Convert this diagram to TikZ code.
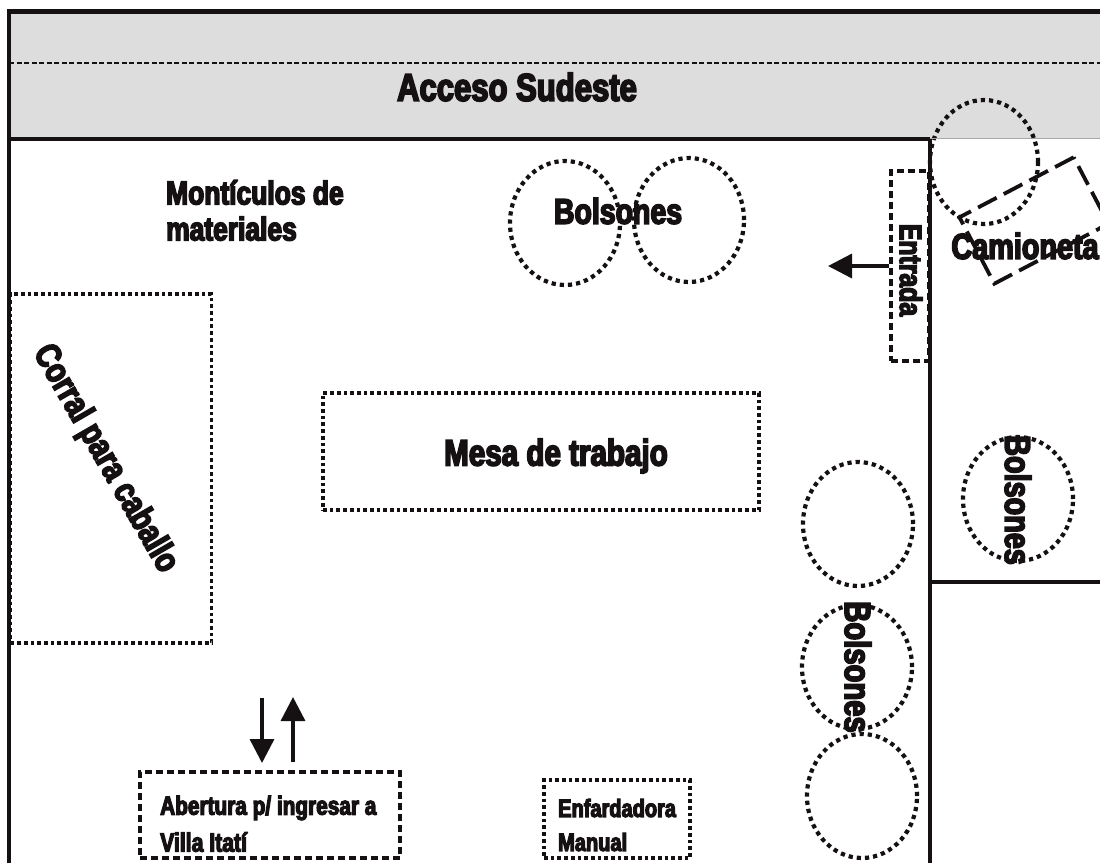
\documentclass[tikz,border=0pt]{standalone}
\usepackage{fontspec}
\setmainfont{Liberation Sans}
\newfontfamily\imp[BoldFeatures={FakeStretch=0.8,FakeBold=4.5}]{Liberation Sans}
\usetikzlibrary{shapes.geometric,arrows.meta}
\definecolor{ink}{HTML}{151112}
\definecolor{road}{HTML}{DCDDDC}
\tikzset{
 wall/.style={draw=ink,line width=4pt},
 dotbox/.style={draw=ink,line width=3.7pt,dash pattern=on 3.7pt off 3pt,rectangle,inner sep=0pt},
 dashbox/.style={draw=ink,line width=3.6pt,dash pattern=on 7pt off 4pt,rectangle,inner sep=0pt},
 longdash/.style={draw=ink,line width=3.8pt,dash pattern=on 21pt off 8pt,rectangle,inner sep=0pt},
 pile/.style={draw=ink,line width=4.2pt,dash pattern=on 4.2pt off 4pt,ellipse,inner sep=0pt,minimum width=110pt,minimum height=124pt},
 lab/.style={text=ink,inner sep=0pt,font=\imp\bfseries\fontsize{#1}{#1}\selectfont},
 arr/.style={draw=ink,line width=3.4pt,-{Triangle[length=24pt,width=24pt]}}
}
\begin{document}
\begin{tikzpicture}[x=1pt,y=-1pt]
\useasboundingbox (0,0) rectangle (1100,863);
\clip (0,0) rectangle (1100,863);
\fill[white] (0,0) rectangle (1100,863);
\fill[road] (8,12) rectangle (1100,139);
% rectangles (behind the walls)
\node[dotbox,minimum width=201pt,minimum height=349pt] (corral) at (111,468.5) {};
\node[dotbox,minimum width=436pt,minimum height=117pt] (mesa) at (541,451.5) {};
\node[dashbox,minimum width=38pt,minimum height=190pt] (entrada) at (910,266) {};
\node[dashbox,minimum width=260pt,minimum height=86pt] (abertura) at (270,815) {};
\node[dotbox,minimum width=146pt,minimum height=78pt] (enfarda) at (617,819) {};
\node[longdash,minimum width=129pt,minimum height=75pt,rotate=27.7] (camion) at (1034,220.5) {};
% piles
\node[pile] (p1) at (565,223) {};
\node[pile] (p2) at (689,220) {};
\node[pile,minimum width=108pt] (p3) at (984,162) {};
\node[pile] (p4) at (858,524) {};
\node[pile] (p5) at (1018,499) {};
\node[pile] (p6) at (857,667) {};
\node[pile] (p7) at (862,796) {};
% walls
\draw[wall,line width=4.5pt] (9,863) -- (9,11.5) -- (1100,11.5);
\draw[draw=ink,line width=3.6pt] (9,139) -- (930,139);
\draw[draw=gray!70,line width=1pt] (930,138.5) -- (1100,138.5);
\draw[wall] (930,139) -- (930,863);
\draw[wall] (930,582) -- (1100,582);
\draw[draw=ink,line width=2.6pt,dash pattern=on 5pt off 2.5pt] (9,63) -- (1100,63);
% arrows
\coordinate (entTip) at (828,266);
\coordinate (downStart) at (262,698);
\coordinate (downEnd) at (262,763);
\coordinate (upStart) at (293,762);
\coordinate (upEnd) at (293,697);
\draw[arr] (entrada.west) -- (entTip);
\draw[arr] (downStart) -- (downEnd);
\draw[arr] (upStart) -- (upEnd);
% texts
\node[lab=38.8] (acceso) at (517,87) {Acceso Sudeste};
\node[lab=33,align=left,anchor=north west] (mont) at (166,180) {Montículos de\\[3pt]materiales};
\node[lab=35.6] (bol1) at (618,211) {Bolsones};
\node[lab=31,rotate=-90] (ent) at (911,270) {Entrada};
\node[lab=36] (cam) at (1025,246) {Camioneta};
\node[lab=35.4,rotate=-60] (cor) at (105,459) {Corral para caballo};
\node[lab=37] (mes) at (556,456) {Mesa de trabajo};
\node[lab=36,rotate=-90] (bol2) at (1018,500) {Bolsones};
\node[lab=36.5,rotate=-90] (bol3) at (858,667) {Bolsones};
\node[lab=26,anchor=west] (ab1) at (160,808) {Abertura p/ ingresar a};
\node[lab=26.5,anchor=west] (ab2) at (160,842) {Villa Itatí};
\node[lab=25,anchor=west] (en1) at (558,808) {Enfardadora};
\node[lab=25,anchor=west] (en2) at (558,842) {Manual};
\end{tikzpicture}
\end{document}
